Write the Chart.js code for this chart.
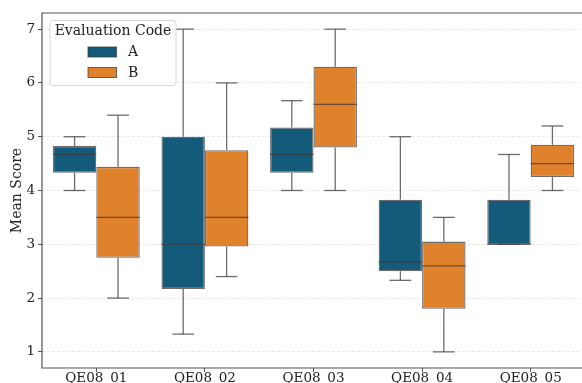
<!DOCTYPE html>
<html>
<head>
<meta charset="utf-8">
<script src="https://cdn.jsdelivr.net/npm/chart.js@4/dist/chart.umd.min.js"></script>
<style>
  html, body { margin: 0; padding: 0; background: #fff; overflow: hidden; }
  #wrap { position: relative; width: 585px; height: 395px; }
</style>
</head>
<body>
<div id="wrap"><canvas id="scoreChart"></canvas></div>
<script>
const categories = ["QE08_01", "QE08_02", "QE08_03", "QE08_04", "QE08_05"];
const groupLabels = ["A", "B"];

// five-number summaries (min, q1, median, q3, max)
const minA = [4.0, 1.33, 4.0, 2.33, 3.0];
const q1A  = [4.33, 2.17, 4.33, 2.5, 3.0];
const medA = [4.67, 3.0, 4.67, 2.67, 3.0];
const q3A  = [4.83, 5.0, 5.17, 3.83, 3.83];
const maxA = [5.0, 7.0, 5.67, 5.0, 4.67];

const minB = [2.0, 2.4, 4.0, 1.0, 4.0];
const q1B  = [2.75, 2.96, 4.8, 1.8, 4.25];
const medB = [3.5, 3.5, 5.6, 2.6, 4.5];
const q3B  = [4.44, 4.75, 6.3, 3.05, 4.85];
const maxB = [5.4, 6.0, 7.0, 3.5, 5.2];

const yTicks = [1, 2, 3, 4, 5, 6, 7];

const colorA = "#145a7b";
const colorB = "#e0812c";
const lineColor = "rgba(60,60,60,0.75)";
const spineColor = "#555";

const stats = [
  { min: minA, med: medA, max: maxA },
  { min: minB, med: medB, max: maxB }
];

Chart.defaults.font.family = "'DejaVu Serif', serif";
Chart.defaults.color = "#222";

// whiskers, caps and medians on top of the floating bars
const boxParts = {
  id: "boxParts",
  afterDatasetsDraw(chart) {
    const ctx = chart.ctx;
    const y = chart.scales.y;
    ctx.save();
    ctx.strokeStyle = lineColor;
    ctx.lineWidth = 1.3;
    chart.data.datasets.forEach((ds, i) => {
      const meta = chart.getDatasetMeta(i);
      meta.data.forEach((bar, j) => {
        const s = stats[i];
        const lo = ds.data[j][0], hi = ds.data[j][1];
        const x = bar.x, w = bar.width;
        const seg = (x1, y1, x2, y2) => {
          ctx.beginPath(); ctx.moveTo(x1, y1); ctx.lineTo(x2, y2); ctx.stroke();
        };
        if (s.max[j] > hi) {
          seg(x, y.getPixelForValue(hi), x, y.getPixelForValue(s.max[j]));
        }
        seg(x - w / 4, y.getPixelForValue(s.max[j]), x + w / 4, y.getPixelForValue(s.max[j]));
        if (s.min[j] < lo) {
          seg(x, y.getPixelForValue(lo), x, y.getPixelForValue(s.min[j]));
        }
        seg(x - w / 4, y.getPixelForValue(s.min[j]), x + w / 4, y.getPixelForValue(s.min[j]));
        seg(x - w / 2, y.getPixelForValue(s.med[j]), x + w / 2, y.getPixelForValue(s.med[j]));
      });
    });
    ctx.restore();
  },
  afterDraw(chart) {
    const ctx = chart.ctx;
    const a = chart.chartArea;
    ctx.save();
    // spines
    ctx.strokeStyle = spineColor;
    ctx.lineWidth = 1.2;
    ctx.beginPath();
    ctx.moveTo(a.right + 2, a.top); ctx.lineTo(a.left, a.top);
    ctx.lineTo(a.left, a.bottom); ctx.lineTo(a.right + 2, a.bottom);
    ctx.stroke();

    // legend
    const lx = a.left + 8, ly = a.top + 7.5, lw = 126, lh = 65;
    ctx.fillStyle = "rgba(255,255,255,0.85)";
    ctx.strokeStyle = "#d6d6d6";
    ctx.lineWidth = 1;
    ctx.beginPath();
    ctx.roundRect(lx, ly, lw, lh, 3);
    ctx.fill(); ctx.stroke();
    ctx.fillStyle = "#222";
    ctx.font = "14px 'DejaVu Serif'";
    ctx.textAlign = "center";
    ctx.textBaseline = "middle";
    ctx.fillText("Evaluation Code", lx + lw / 2, ly + 11);
    chart.data.datasets.forEach((ds, i) => {
      const cy = ly + 31.5 + i * 20.5;
      ctx.fillStyle = ds.backgroundColor;
      ctx.fillRect(lx + 38, cy - 5, 28.5, 10);
      ctx.strokeStyle = lineColor;
      ctx.strokeRect(lx + 38, cy - 5, 28.5, 10);
      ctx.fillStyle = "#222";
      ctx.textAlign = "left";
      ctx.fillText(ds.label, lx + 78, cy + 0.5);
    });
    ctx.restore();
  }
};

new Chart(document.getElementById("scoreChart"), {
  type: "bar",
  data: {
    labels: categories,
    datasets: [
      {
        label: groupLabels[0],
        data: q1A.map((v, i) => [v, q3A[i]]),
        backgroundColor: colorA,
        borderColor: lineColor,
        borderWidth: 1.3,
        borderSkipped: false
      },
      {
        label: groupLabels[1],
        data: q1B.map((v, i) => [v, q3B[i]]),
        backgroundColor: colorB,
        borderColor: lineColor,
        borderWidth: 1.3,
        borderSkipped: false
      }
    ]
  },
  options: {
    responsive: true,
    maintainAspectRatio: false,
    animation: false,
    layout: { padding: { top: 13, left: 0, right: 0, bottom: 0 } },
    categoryPercentage: 0.8,
    barPercentage: 1.0,
    plugins: {
      legend: { display: false },
      tooltip: { enabled: false }
    },
    scales: {
      x: {
        offset: true,
        grid: {
          offset: false,
          drawOnChartArea: false,
          drawTicks: true,
          tickLength: 4,
          tickColor: spineColor,
          tickWidth: 1
        },
        border: { display: false },
        ticks: { font: { size: 13.5 }, color: "#222", padding: -2, maxRotation: 0 },
        afterFit(scale) { scale.height = 27; }
      },
      y: {
        min: 0.7,
        max: 7.3,
        afterBuildTicks(scale) { scale.ticks = yTicks.map(v => ({ value: v })); },
        grid: {
          color: "#e2e2e2",
          lineWidth: 0.8,
          tickLength: 4,
          tickColor: spineColor,
          tickWidth: 1,
          tickBorderDash: [1, 0]
        },
        border: { display: false, dash: [3, 2] },
        ticks: { font: { size: 13.5 }, color: "#222", padding: 3 },
        title: {
          display: true,
          text: "Mean Score",
          font: { size: 14 },
          color: "#222",
          padding: { top: 9, bottom: 0 }
        },
        afterFit(scale) { scale.width = 42; }
      }
    }
  },
  plugins: [boxParts]
});
</script>
</body>
</html>
